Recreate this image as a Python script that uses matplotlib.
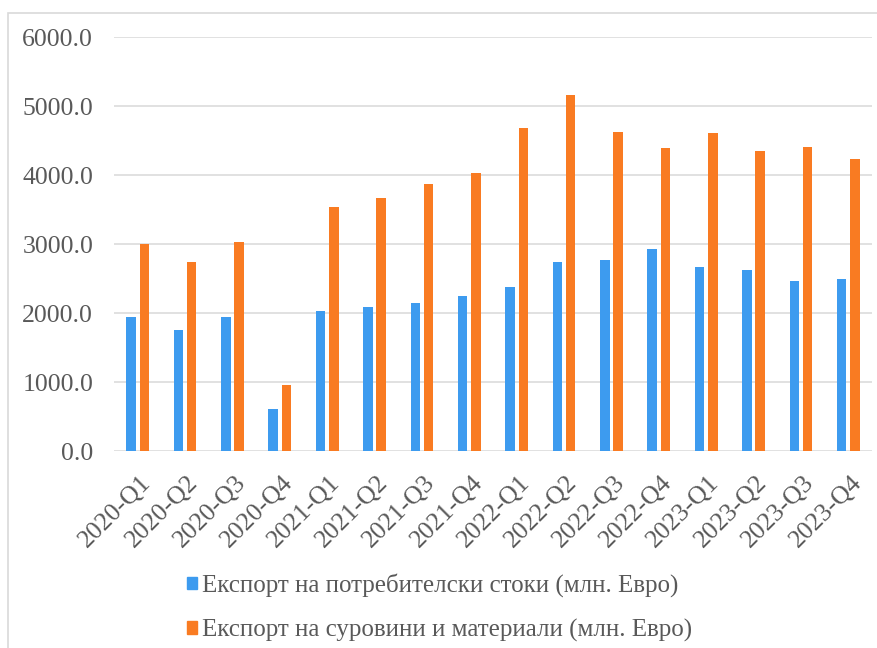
import numpy as np
import matplotlib.pyplot as plt
import matplotlib.transforms as mtransforms
from matplotlib.patches import Rectangle

# Quarterly exports, million EUR
quarters = ['2020-Q1', '2020-Q2', '2020-Q3', '2020-Q4',
            '2021-Q1', '2021-Q2', '2021-Q3', '2021-Q4',
            '2022-Q1', '2022-Q2', '2022-Q3', '2022-Q4',
            '2023-Q1', '2023-Q2', '2023-Q3', '2023-Q4']
consumer_goods = [1948, 1750, 1948, 614, 2030, 2084, 2146, 2243,
                  2374, 2737, 2770, 2934, 2669, 2621, 2470, 2490]
raw_materials = [2997, 2737, 3031, 957, 3543, 3674, 3872, 4037,
                 4680, 5168, 4627, 4399, 4612, 4347, 4413, 4234]
series_names = ['Експорт на потребителски стоки (млн. Евро)',
                'Експорт на суровини и материали (млн. Евро)']

blue = '#3d9bef'
orange = '#f97b22'
text_color = '#595959'
grid_color = '#d9d9d9'

plt.rcParams['font.family'] = 'Liberation Serif'

fig = plt.figure(figsize=(8.78, 6.48), dpi=100)
ax = fig.add_axes([114 / 878, 1 - 451 / 648, 758 / 878, (451 - 37.3) / 648])

x = np.arange(len(quarters))
w = 0.2
off = 0.14
ax.bar(x - off, consumer_goods, width=w, color=blue, zorder=3)
ax.bar(x + off, raw_materials, width=w, color=orange, zorder=3)

ax.set_xlim(-0.5, len(quarters) - 0.5)
ax.set_ylim(0, 6000)
ticks = np.arange(0, 6001, 1000)
ax.set_yticks(ticks)
ax.set_yticklabels([f'{v:.1f}' for v in ticks], family='Liberation Serif')
ax.yaxis.grid(True, color=grid_color, linewidth=1.1, zorder=0)
for s in ax.spines.values():
    s.set_visible(False)
ax.tick_params(axis='y', length=0, labelsize=18.5, labelcolor=text_color, pad=15)

ax.set_xticks(x)
ax.set_xticklabels(quarters, rotation=45, ha='right', va='top',
                   rotation_mode='anchor', family='Liberation Serif')
ax.tick_params(axis='x', length=0, labelsize=18.5, labelcolor=text_color, pad=15)
shift = mtransforms.ScaledTranslation(2 / 100, 0, fig.dpi_scale_trans)
for lbl in ax.get_xticklabels():
    lbl.set_transform(lbl.get_transform() + shift)

# outer chart frame
fig.patches.append(Rectangle((8 / 878, -0.1), 1.0, 1 - 13 / 648 + 0.1,
                             transform=fig.transFigure, fill=False,
                             edgecolor=grid_color, linewidth=1.2))

handles = [Rectangle((0, 0), 1, 1, color=blue), Rectangle((0, 0), 1, 1, color=orange)]
fig.legend(handles, series_names, loc='upper left',
           bbox_to_anchor=(165 / 878, 1 - 551 / 648), frameon=False,
           prop={'family': 'Liberation Serif', 'size': 18},
           labelcolor=text_color, handlelength=0.4,
           handleheight=0.4, handletextpad=0.2, labelspacing=0.85)

fig.savefig('out.png', dpi=100)
